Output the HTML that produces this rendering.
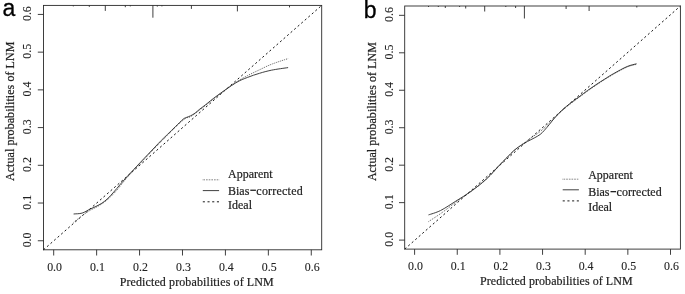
<!DOCTYPE html>
<html><head><meta charset="utf-8"><title>Calibration curves</title>
<style>
html,body{margin:0;padding:0;background:#fff;}
svg{display:block;filter:grayscale(1);}
.t{font-family:"Liberation Serif",serif;font-size:12px;fill:#222;stroke:#222;stroke-width:0.1px;}
.l{font-family:"Liberation Serif",serif;font-size:12px;fill:#222;stroke:#222;stroke-width:0.2px;}
.p{font-family:"Liberation Sans",sans-serif;font-size:23px;fill:#000;stroke:#000;stroke-width:0.3px;}
</style></head>
<body>
<svg width="685" height="294" viewBox="0 0 685 294">
<rect width="685" height="294" fill="#fff"/>
<rect x="43.5" y="5.4" width="278.20" height="244.40" fill="none" stroke="#2a2a2a" stroke-width="0.9"/>
<line x1="53.70" y1="249.8" x2="53.70" y2="255.50" stroke="#2a2a2a" stroke-width="0.9"/>
<text transform="translate(54.60,271.2) scale(0.99,1.11)" text-anchor="middle" class="t">0.0</text>
<line x1="37.80" y1="240.75" x2="43.5" y2="240.75" stroke="#2a2a2a" stroke-width="0.9"/>
<text transform="translate(31.1,239.95) rotate(-90) scale(0.99,1.11)" text-anchor="middle" class="t">0.0</text>
<line x1="96.63" y1="249.8" x2="96.63" y2="255.50" stroke="#2a2a2a" stroke-width="0.9"/>
<text transform="translate(97.53,271.2) scale(0.99,1.11)" text-anchor="middle" class="t">0.1</text>
<line x1="37.80" y1="203.03" x2="43.5" y2="203.03" stroke="#2a2a2a" stroke-width="0.9"/>
<text transform="translate(31.1,202.23) rotate(-90) scale(0.99,1.11)" text-anchor="middle" class="t">0.1</text>
<line x1="139.56" y1="249.8" x2="139.56" y2="255.50" stroke="#2a2a2a" stroke-width="0.9"/>
<text transform="translate(140.46,271.2) scale(0.99,1.11)" text-anchor="middle" class="t">0.2</text>
<line x1="37.80" y1="165.31" x2="43.5" y2="165.31" stroke="#2a2a2a" stroke-width="0.9"/>
<text transform="translate(31.1,164.51) rotate(-90) scale(0.99,1.11)" text-anchor="middle" class="t">0.2</text>
<line x1="182.49" y1="249.8" x2="182.49" y2="255.50" stroke="#2a2a2a" stroke-width="0.9"/>
<text transform="translate(183.39,271.2) scale(0.99,1.11)" text-anchor="middle" class="t">0.3</text>
<line x1="37.80" y1="127.59" x2="43.5" y2="127.59" stroke="#2a2a2a" stroke-width="0.9"/>
<text transform="translate(31.1,126.79) rotate(-90) scale(0.99,1.11)" text-anchor="middle" class="t">0.3</text>
<line x1="225.42" y1="249.8" x2="225.42" y2="255.50" stroke="#2a2a2a" stroke-width="0.9"/>
<text transform="translate(226.32,271.2) scale(0.99,1.11)" text-anchor="middle" class="t">0.4</text>
<line x1="37.80" y1="89.87" x2="43.5" y2="89.87" stroke="#2a2a2a" stroke-width="0.9"/>
<text transform="translate(31.1,89.07) rotate(-90) scale(0.99,1.11)" text-anchor="middle" class="t">0.4</text>
<line x1="268.35" y1="249.8" x2="268.35" y2="255.50" stroke="#2a2a2a" stroke-width="0.9"/>
<text transform="translate(269.25,271.2) scale(0.99,1.11)" text-anchor="middle" class="t">0.5</text>
<line x1="37.80" y1="52.15" x2="43.5" y2="52.15" stroke="#2a2a2a" stroke-width="0.9"/>
<text transform="translate(31.1,51.35) rotate(-90) scale(0.99,1.11)" text-anchor="middle" class="t">0.5</text>
<line x1="311.28" y1="249.8" x2="311.28" y2="255.50" stroke="#2a2a2a" stroke-width="0.9"/>
<text transform="translate(312.18,271.2) scale(0.99,1.11)" text-anchor="middle" class="t">0.6</text>
<line x1="37.80" y1="14.43" x2="43.5" y2="14.43" stroke="#2a2a2a" stroke-width="0.9"/>
<text transform="translate(31.1,13.63) rotate(-90) scale(0.99,1.11)" text-anchor="middle" class="t">0.6</text>
<line x1="73.3" y1="5.4" x2="73.3" y2="6.40" stroke="#2a2a2a" stroke-width="0.9"/>
<line x1="89.3" y1="5.4" x2="89.3" y2="6.90" stroke="#2a2a2a" stroke-width="0.9"/>
<line x1="105.3" y1="5.4" x2="105.3" y2="10.90" stroke="#2a2a2a" stroke-width="0.9"/>
<line x1="125.3" y1="5.4" x2="125.3" y2="7.20" stroke="#2a2a2a" stroke-width="0.9"/>
<line x1="130.3" y1="5.4" x2="130.3" y2="6.40" stroke="#2a2a2a" stroke-width="0.9"/>
<line x1="152.9" y1="5.4" x2="152.9" y2="17.70" stroke="#2a2a2a" stroke-width="0.9"/>
<line x1="157.3" y1="5.4" x2="157.3" y2="6.60" stroke="#2a2a2a" stroke-width="0.9"/>
<line x1="161.9" y1="5.4" x2="161.9" y2="6.40" stroke="#2a2a2a" stroke-width="0.9"/>
<line x1="191.4" y1="5.4" x2="191.4" y2="8.90" stroke="#2a2a2a" stroke-width="0.9"/>
<line x1="237.4" y1="5.4" x2="237.4" y2="11.40" stroke="#2a2a2a" stroke-width="0.9"/>
<line x1="289.5" y1="5.4" x2="289.5" y2="7.40" stroke="#2a2a2a" stroke-width="0.9"/>
<line x1="43.5" y1="249.8" x2="321.7" y2="5.4" stroke="#181818" stroke-width="1.0" stroke-dasharray="2.1,2.6"/>
<path d="M73.6,222.3 C74.7,221.5 78.1,218.8 80.0,217.3 C81.9,215.9 83.3,214.8 85.0,213.6 C86.7,212.4 87.7,211.7 90.0,210.4 C92.3,209.1 96.2,207.4 99.1,205.6 C102.0,203.8 104.8,201.9 107.6,199.5 C110.4,197.1 113.4,194.0 116.1,191.0 C118.8,188.0 120.8,185.1 123.7,181.6 C126.7,178.1 127.5,176.9 133.8,170.2 C140.1,163.5 153.1,149.7 161.3,141.4 C169.5,133.1 178.1,124.4 183.0,120.3 C187.9,116.2 187.8,118.3 190.6,116.6 C193.4,114.9 195.5,113.2 199.8,109.9 C204.2,106.6 210.7,101.1 216.7,96.5 C222.7,91.9 230.5,86.0 235.7,82.5 C240.8,79.0 243.6,77.7 247.6,75.6 C251.6,73.5 255.5,71.7 259.5,69.8 C263.5,67.9 266.6,66.2 271.4,64.3 C276.2,62.4 285.3,59.5 288.1,58.6" fill="none" stroke="#5a5a5a" stroke-width="1" stroke-dasharray="1.0,1.1"/>
<path d="M73.6,214.0 C75.0,213.8 79.4,213.9 82.1,213.1 C84.8,212.3 87.7,210.2 90.0,209.1 C92.3,208.0 94.0,207.4 96.0,206.4 C98.0,205.4 99.9,204.5 101.9,203.2 C103.9,201.9 105.9,200.3 107.9,198.4 C109.9,196.5 111.8,194.2 113.8,192.0 C115.8,189.8 117.8,187.2 119.8,184.9 C121.8,182.6 123.4,180.8 125.7,178.2 C128.0,175.6 130.2,173.3 133.8,169.4 C137.5,165.5 143.0,159.6 147.6,154.8 C152.2,150.0 158.0,143.8 161.3,140.4 C164.7,137.0 165.4,136.5 167.7,134.2 C170.0,131.9 172.8,129.2 175.3,126.7 C177.9,124.2 181.1,120.9 183.0,119.3 C184.9,117.7 185.5,117.9 186.8,117.3 C188.1,116.7 189.2,116.5 190.6,115.8 C192.0,115.1 193.7,114.1 195.2,113.0 C196.7,111.9 198.0,110.5 199.8,109.1 C201.6,107.7 203.1,106.7 205.9,104.5 C208.7,102.3 211.7,99.6 216.7,96.0 C221.7,92.4 230.5,86.0 235.7,82.9 C240.8,79.8 243.6,79.0 247.6,77.4 C251.6,75.8 255.5,74.5 259.5,73.3 C263.5,72.1 266.6,71.2 271.4,70.2 C276.2,69.2 285.3,68.0 288.1,67.6" fill="none" stroke="#2a2a2a" stroke-width="0.9"/>
<text transform="translate(14.3,181.0) rotate(-90) scale(1,1.1)" textLength="139.4" lengthAdjust="spacing" class="l">Actual probabilities of LNM</text>
<text transform="translate(119.7,286.4) scale(1,1.1)" textLength="154.0" lengthAdjust="spacing" class="l">Predicted probabilities of LNM</text>
<line x1="202.8" y1="179.8" x2="219.1" y2="179.8" stroke="#222" stroke-width="0.9" stroke-dasharray="0.6,1.0"/>
<line x1="202.8" y1="190.6" x2="219.1" y2="190.6" stroke="#2a2a2a" stroke-width="0.9"/>
<line x1="202.8" y1="201.8" x2="219.1" y2="201.8" stroke="#181818" stroke-width="1.0" stroke-dasharray="2.1,2.6"/>
<text transform="translate(228.0,178.4) scale(1,1.1)" class="l">Apparent</text>
<text transform="translate(228.0,194.7) scale(1,1.1)" class="l">Bias<tspan dx="7.0" textLength="46.4" lengthAdjust="spacing">corrected</tspan></text>
<text transform="translate(228.0,209.1) scale(1,1.1)" class="l">Ideal</text>
<rect x="250.30" y="189.60" width="5.6" height="1.3" fill="#222"/>
<text x="2.5" y="15.5" class="p">a</text>
<rect x="404.7" y="6.0" width="275.70" height="243.10" fill="none" stroke="#2a2a2a" stroke-width="0.9"/>
<line x1="414.60" y1="249.1" x2="414.60" y2="254.80" stroke="#2a2a2a" stroke-width="0.9"/>
<text transform="translate(415.50,270.1) scale(0.99,1.11)" text-anchor="middle" class="t">0.0</text>
<line x1="399.00" y1="240.10" x2="404.7" y2="240.10" stroke="#2a2a2a" stroke-width="0.9"/>
<text transform="translate(392.5,239.30) rotate(-90) scale(0.99,1.11)" text-anchor="middle" class="t">0.0</text>
<line x1="457.25" y1="249.1" x2="457.25" y2="254.80" stroke="#2a2a2a" stroke-width="0.9"/>
<text transform="translate(458.15,270.1) scale(0.99,1.11)" text-anchor="middle" class="t">0.1</text>
<line x1="399.00" y1="202.64" x2="404.7" y2="202.64" stroke="#2a2a2a" stroke-width="0.9"/>
<text transform="translate(392.5,201.84) rotate(-90) scale(0.99,1.11)" text-anchor="middle" class="t">0.1</text>
<line x1="499.90" y1="249.1" x2="499.90" y2="254.80" stroke="#2a2a2a" stroke-width="0.9"/>
<text transform="translate(500.80,270.1) scale(0.99,1.11)" text-anchor="middle" class="t">0.2</text>
<line x1="399.00" y1="165.18" x2="404.7" y2="165.18" stroke="#2a2a2a" stroke-width="0.9"/>
<text transform="translate(392.5,164.38) rotate(-90) scale(0.99,1.11)" text-anchor="middle" class="t">0.2</text>
<line x1="542.55" y1="249.1" x2="542.55" y2="254.80" stroke="#2a2a2a" stroke-width="0.9"/>
<text transform="translate(543.45,270.1) scale(0.99,1.11)" text-anchor="middle" class="t">0.3</text>
<line x1="399.00" y1="127.72" x2="404.7" y2="127.72" stroke="#2a2a2a" stroke-width="0.9"/>
<text transform="translate(392.5,126.92) rotate(-90) scale(0.99,1.11)" text-anchor="middle" class="t">0.3</text>
<line x1="585.20" y1="249.1" x2="585.20" y2="254.80" stroke="#2a2a2a" stroke-width="0.9"/>
<text transform="translate(586.10,270.1) scale(0.99,1.11)" text-anchor="middle" class="t">0.4</text>
<line x1="399.00" y1="90.26" x2="404.7" y2="90.26" stroke="#2a2a2a" stroke-width="0.9"/>
<text transform="translate(392.5,89.46) rotate(-90) scale(0.99,1.11)" text-anchor="middle" class="t">0.4</text>
<line x1="627.85" y1="249.1" x2="627.85" y2="254.80" stroke="#2a2a2a" stroke-width="0.9"/>
<text transform="translate(628.75,270.1) scale(0.99,1.11)" text-anchor="middle" class="t">0.5</text>
<line x1="399.00" y1="52.80" x2="404.7" y2="52.80" stroke="#2a2a2a" stroke-width="0.9"/>
<text transform="translate(392.5,52.00) rotate(-90) scale(0.99,1.11)" text-anchor="middle" class="t">0.5</text>
<line x1="670.50" y1="249.1" x2="670.50" y2="254.80" stroke="#2a2a2a" stroke-width="0.9"/>
<text transform="translate(671.40,270.1) scale(0.99,1.11)" text-anchor="middle" class="t">0.6</text>
<line x1="399.00" y1="15.34" x2="404.7" y2="15.34" stroke="#2a2a2a" stroke-width="0.9"/>
<text transform="translate(392.5,14.54) rotate(-90) scale(0.99,1.11)" text-anchor="middle" class="t">0.6</text>
<line x1="428.5" y1="6.0" x2="428.5" y2="7.00" stroke="#2a2a2a" stroke-width="0.9"/>
<line x1="438.3" y1="6.0" x2="438.3" y2="7.00" stroke="#2a2a2a" stroke-width="0.9"/>
<line x1="445.3" y1="6.0" x2="445.3" y2="8.00" stroke="#2a2a2a" stroke-width="0.9"/>
<line x1="459.6" y1="6.0" x2="459.6" y2="7.00" stroke="#2a2a2a" stroke-width="0.9"/>
<line x1="465.7" y1="6.0" x2="465.7" y2="8.50" stroke="#2a2a2a" stroke-width="0.9"/>
<line x1="484.7" y1="6.0" x2="484.7" y2="11.50" stroke="#2a2a2a" stroke-width="0.9"/>
<line x1="505.8" y1="6.0" x2="505.8" y2="7.00" stroke="#2a2a2a" stroke-width="0.9"/>
<line x1="515.6" y1="6.0" x2="515.6" y2="8.00" stroke="#2a2a2a" stroke-width="0.9"/>
<line x1="524.4" y1="6.0" x2="524.4" y2="18.50" stroke="#2a2a2a" stroke-width="0.9"/>
<line x1="566.1" y1="6.0" x2="566.1" y2="9.00" stroke="#2a2a2a" stroke-width="0.9"/>
<line x1="589.1" y1="6.0" x2="589.1" y2="11.00" stroke="#2a2a2a" stroke-width="0.9"/>
<line x1="636.8" y1="6.0" x2="636.8" y2="7.50" stroke="#2a2a2a" stroke-width="0.9"/>
<line x1="404.7" y1="249.1" x2="680.4" y2="6.0" stroke="#181818" stroke-width="1.0" stroke-dasharray="2.1,2.6"/>
<path d="M428.5,221.6 C430.5,220.3 436.0,216.8 440.6,213.6 C445.2,210.4 450.8,205.9 455.9,202.2 C461.0,198.5 466.1,195.2 471.2,191.4 C476.3,187.6 481.7,183.6 486.5,179.2 C491.3,174.8 495.6,169.5 500.2,164.8 C504.8,160.1 509.3,155.1 513.8,151.0 C518.3,146.9 523.0,143.8 527.4,140.5 C531.8,137.2 536.4,134.4 540.1,131.5 C543.8,128.6 545.9,126.5 549.5,123.0 C553.1,119.5 557.1,115.0 562.0,110.7 C566.9,106.4 573.3,101.7 579.0,97.4 C584.7,93.2 590.2,89.1 596.0,85.2 C601.8,81.3 608.6,77.0 613.8,74.0 C619.0,71.0 623.4,68.6 627.2,67.0 C631.0,65.4 635.0,64.8 636.6,64.3" fill="none" stroke="#5a5a5a" stroke-width="1" stroke-dasharray="1.0,1.1"/>
<path d="M428.5,214.9 C430.5,214.2 436.0,212.8 440.6,210.5 C445.2,208.2 450.8,204.3 455.9,201.1 C461.0,197.9 466.1,194.9 471.2,191.2 C476.3,187.5 481.7,183.4 486.5,178.9 C491.3,174.4 496.8,167.9 500.2,164.3 C503.6,160.7 504.7,159.8 507.0,157.5 C509.3,155.2 511.5,152.6 513.8,150.6 C516.1,148.6 518.3,147.1 520.6,145.6 C522.9,144.1 525.1,142.8 527.4,141.5 C529.7,140.2 532.1,139.2 534.2,138.0 C536.3,136.8 538.4,135.8 540.1,134.5 C541.8,133.2 542.8,132.0 544.4,130.3 C546.0,128.6 547.7,126.4 549.5,124.3 C551.3,122.2 552.9,119.8 555.0,117.5 C557.1,115.2 559.4,112.6 562.0,110.2 C564.6,107.8 567.7,105.3 570.5,103.1 C573.3,100.9 576.2,99.0 579.0,96.9 C581.8,94.8 584.7,92.5 587.5,90.5 C590.3,88.5 593.2,86.6 596.0,84.7 C598.8,82.8 601.5,81.1 604.5,79.2 C607.5,77.3 610.0,75.6 613.8,73.5 C617.6,71.4 623.4,68.1 627.2,66.5 C631.0,64.9 635.0,64.2 636.6,63.8" fill="none" stroke="#2a2a2a" stroke-width="0.9"/>
<text transform="translate(375.6,181.1) rotate(-90) scale(1,1.1)" textLength="139.0" lengthAdjust="spacing" class="l">Actual probabilities of LNM</text>
<text transform="translate(480.1,285.3) scale(1,1.1)" textLength="152.5" lengthAdjust="spacing" class="l">Predicted probabilities of LNM</text>
<line x1="562.7" y1="179.2" x2="578.9" y2="179.2" stroke="#222" stroke-width="0.9" stroke-dasharray="0.6,1.0"/>
<line x1="562.7" y1="189.8" x2="578.9" y2="189.8" stroke="#2a2a2a" stroke-width="0.9"/>
<line x1="562.7" y1="200.9" x2="578.9" y2="200.9" stroke="#181818" stroke-width="1.0" stroke-dasharray="2.1,2.6"/>
<text transform="translate(588.2,179.0) scale(1,1.1)" class="l">Apparent</text>
<text transform="translate(588.2,196.1) scale(1,1.1)" class="l">Bias<tspan dx="7.0" textLength="45.2" lengthAdjust="spacing">corrected</tspan></text>
<text transform="translate(588.2,211.1) scale(1,1.1)" class="l">Ideal</text>
<rect x="610.50" y="191.00" width="5.6" height="1.3" fill="#222"/>
<text x="363.7" y="17.9" class="p">b</text>
</svg>
</body></html>
